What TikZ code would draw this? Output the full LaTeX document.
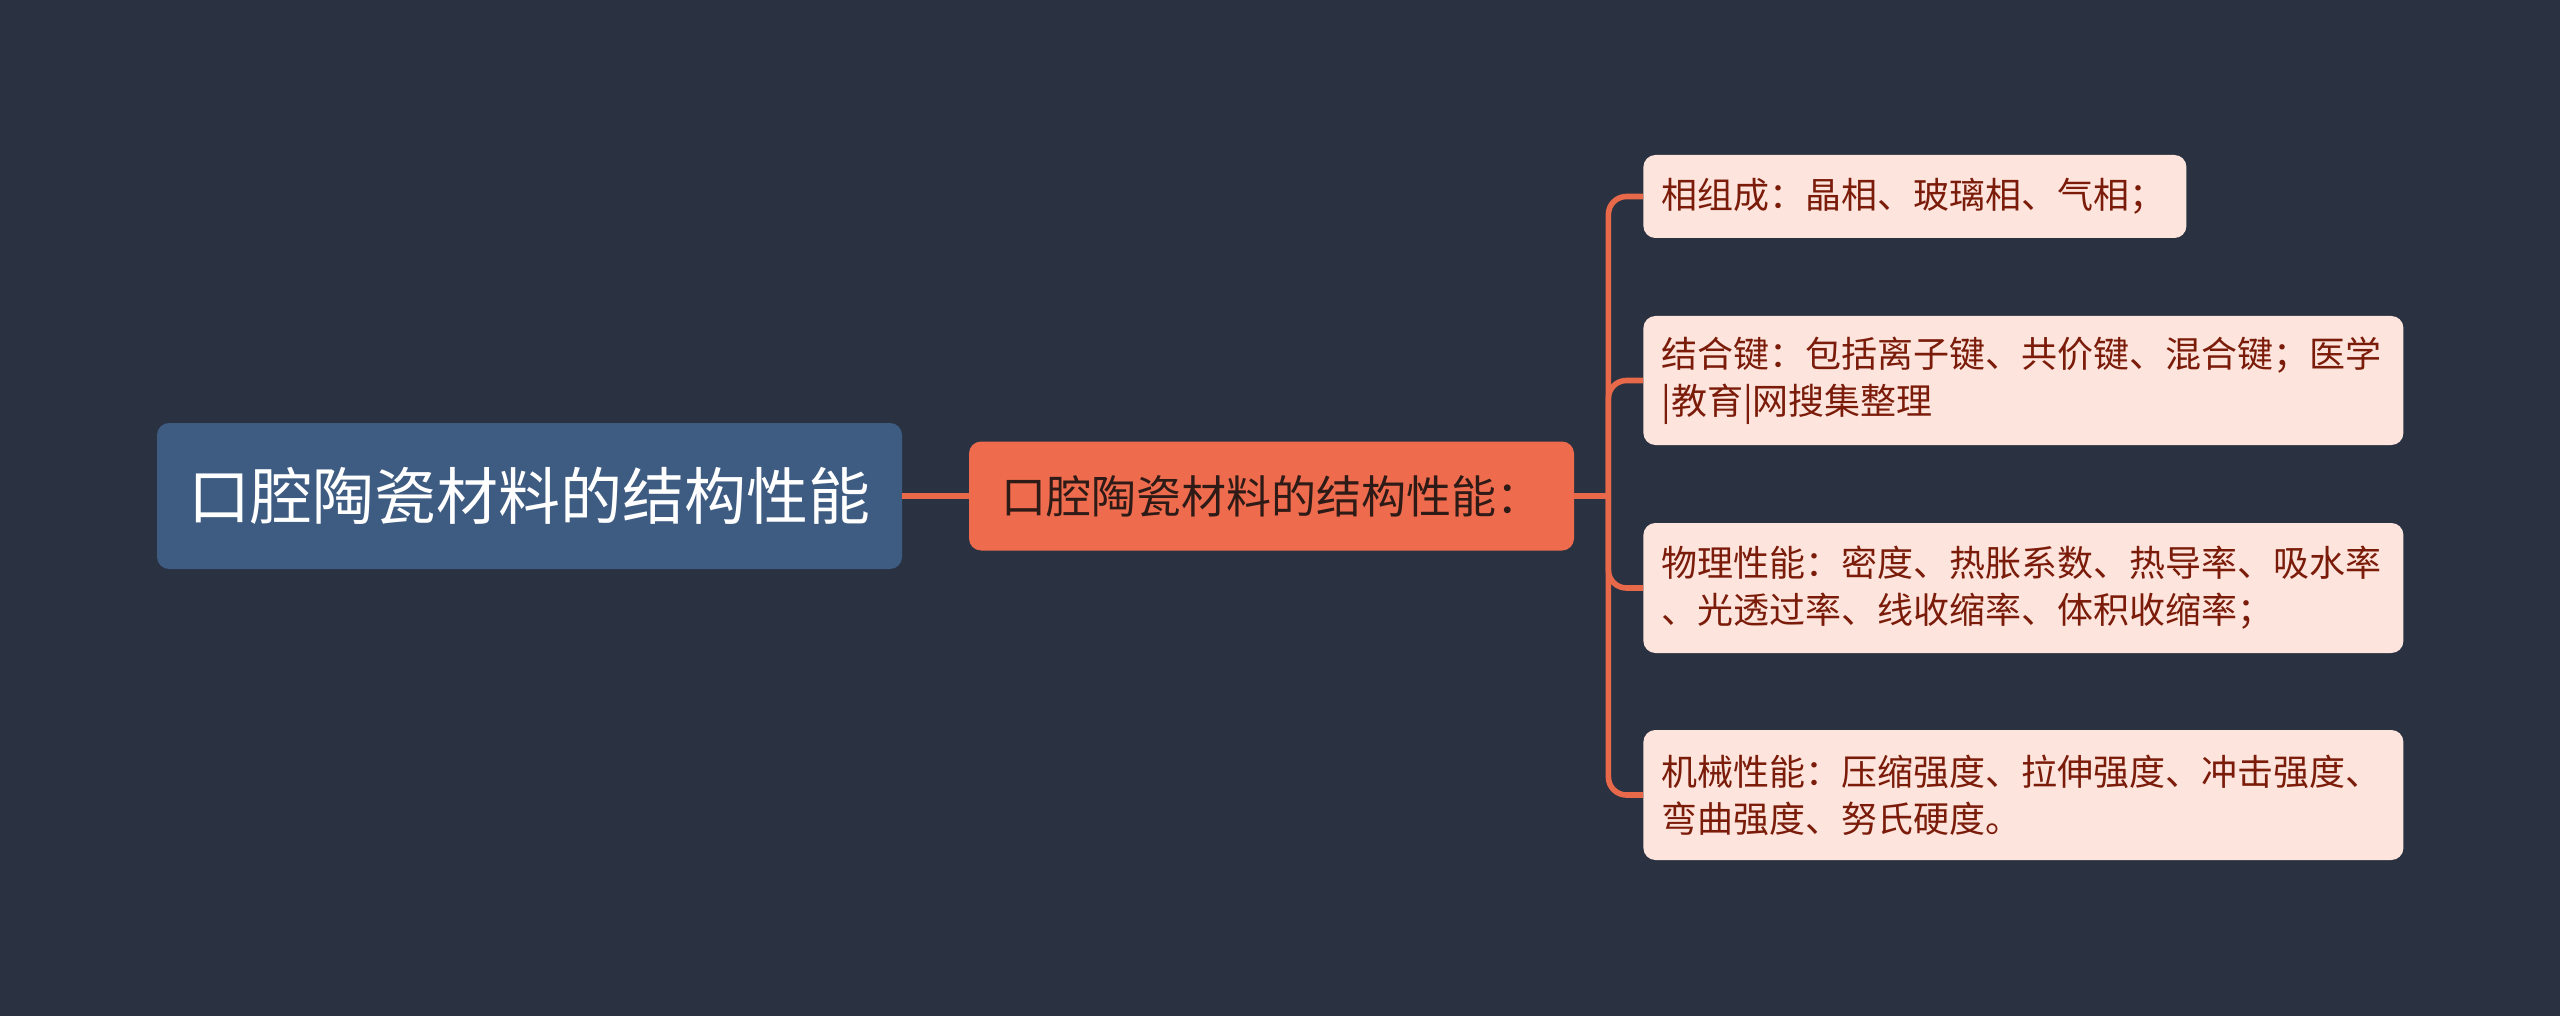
\documentclass[tikz,border=0pt]{standalone}
\usepackage{fontspec}
\setmainfont{Noto Sans CJK SC}
\definecolor{bg}{HTML}{2A3141}
\definecolor{rootfill}{HTML}{3E5C82}
\definecolor{mainfill}{HTML}{EE6C4D}
\definecolor{linec}{HTML}{E8694A}
\definecolor{leaffill}{HTML}{FDE4DD}
\definecolor{leaftext}{HTML}{7B1C0A}
\definecolor{maintext}{HTML}{2E1A16}
\tikzset{
  rootbox/.style={fill=rootfill, rounded corners=6pt, text=white, font=\fontsize{31}{36}\selectfont, minimum width=372.5pt, minimum height=73pt, inner sep=0pt},
  mainbox/.style={fill=mainfill, rounded corners=6pt, text=maintext, font=\fontsize{22.5}{28}\selectfont, minimum width=302.5pt, minimum height=54.5pt, inner sep=0pt},
  leafbox/.style={fill=leaffill, rounded corners=6pt, text=leaftext, font=\fontsize{18}{23.5}\selectfont, align=left, anchor=west, inner xsep=9pt, inner ysep=0pt},
  conn/.style={draw=linec, line width=2.8pt},
}
\begin{document}
\begin{tikzpicture}[x=0.5pt,y=-0.5pt]
\fill[bg] (0,0) rectangle (2560,1016);
\useasboundingbox (0,0) rectangle (2560,1016);
\node[rootbox] (root) at (529.5,496) {口腔陶瓷材料的结构性能};
\node[mainbox] (main) at (1271.5,496) {口腔陶瓷材料的结构性能：};
\node[leafbox, text width=253.5pt, minimum height=41.5pt] (l1) at (1643,196.5) {相组成：晶相、玻璃相、气相；};
\node[leafbox, text width=362pt, minimum height=64.5pt] (l2) at (1643,380.5) {结合键：包括离子键、共价键、混合键；医学\\|教育|网搜集整理};
\node[leafbox, text width=362pt, minimum height=65pt] (l3) at (1643,588) {物理性能：密度、热胀系数、热导率、吸水率\\、光透过率、线收缩率、体积收缩率；};
\node[leafbox, text width=362pt, minimum height=65pt] (l4) at (1643,795) {机械性能：压缩强度、拉伸强度、冲击强度、\\弯曲强度、努氏硬度。};
\draw[conn] (root.east) -- (main.west);
\draw[conn] (main.east) -- ++(17pt,0) coordinate (j);
\foreach \l in {l1,l2,l3,l4}{
  \draw[conn, rounded corners=9pt] (j) |- (\l.west);
}
\end{tikzpicture}
\end{document}
